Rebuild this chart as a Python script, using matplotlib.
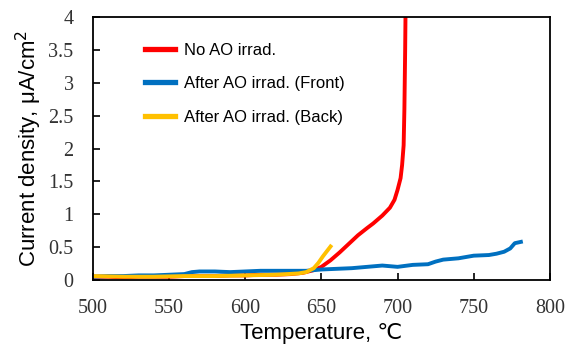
import matplotlib.pyplot as plt

# Data
red_t = [500, 510, 520, 530, 540, 550, 560, 570, 580, 590, 600, 610, 620, 630, 638,
         645, 650, 656, 662, 668, 674, 680, 684, 690, 695, 698, 700, 702, 703, 704,
         704.5, 705, 705.3]
red_y = [0.05, 0.05, 0.04, 0.05, 0.05, 0.05, 0.06, 0.06, 0.06, 0.07, 0.07, 0.08, 0.08,
         0.09, 0.11, 0.15, 0.2, 0.3, 0.42, 0.55, 0.68, 0.79, 0.86, 0.98, 1.1, 1.22,
         1.37, 1.55, 1.75, 2.05, 2.6, 3.5, 4.2]

blue_t = [500, 510, 520, 530, 540, 550, 560, 565, 570, 580, 590, 600, 610, 620, 630,
          640, 650, 660, 670, 680, 690, 700, 710, 720, 725, 730, 740, 750, 760, 765,
          770, 774, 777, 781]
blue_y = [0.05, 0.06, 0.06, 0.07, 0.07, 0.08, 0.09, 0.12, 0.13, 0.13, 0.12, 0.13, 0.14,
          0.14, 0.14, 0.14, 0.16, 0.17, 0.18, 0.2, 0.22, 0.2, 0.23, 0.24, 0.28, 0.31,
          0.33, 0.37, 0.38, 0.40, 0.43, 0.48, 0.56, 0.58]

yel_t = [500, 520, 540, 560, 580, 600, 620, 635, 640, 645, 648, 651, 654, 656]
yel_y = [0.06, 0.05, 0.05, 0.06, 0.06, 0.07, 0.08, 0.1, 0.12, 0.18, 0.26, 0.36, 0.45, 0.51]

labels = ["No AO irrad.", "After AO irrad. (Front)", "After AO irrad. (Back)"]
xticks = [500, 550, 600, 650, 700, 750, 800]
yticks = [0, 0.5, 1, 1.5, 2, 2.5, 3, 3.5, 4]
ytick_labels = ["0", "0.5", "1", "1.5", "2", "2.5", "3", "3.5", "4"]

sans = ['Liberation Sans', 'DejaVu Sans']

fig = plt.figure(figsize=(5.68, 3.48), dpi=100)
ax = fig.add_axes([0.1637, 0.1954, 0.8043, 0.7556])

ax.plot(red_t, red_y, color='#ff0000', lw=2.8, label=labels[0])
ax.plot(blue_t, blue_y, color='#0070c0', lw=2.8, label=labels[1])
ax.plot(yel_t, yel_y, color='#ffc000', lw=2.8, label=labels[2])

ax.set_xlim(500, 800)
ax.set_ylim(0, 4)
ax.set_xticks(xticks)
ax.set_yticks(yticks)
ax.set_yticklabels(ytick_labels)
ax.tick_params(direction='in', length=5, width=1.2, top=False, right=False,
               labelsize=14.5, labelcolor='#333333')
ax.tick_params(axis='y', pad=14)
ax.tick_params(axis='x', pad=14)
for lab in ax.get_xticklabels() + ax.get_yticklabels():
    lab.set_family('Liberation Serif')
for sp in ax.spines.values():
    sp.set_linewidth(1.3)

ax.set_xlabel("Temperature, \u2103", family=sans, fontsize=16, labelpad=3)
ax.set_ylabel("Current density, \u03bcA/cm$^2$", family=sans, fontsize=16, labelpad=3)

leg = ax.legend(loc='upper left', bbox_to_anchor=(0.099, 0.927), frameon=False,
                borderaxespad=0, prop={'family': sans, 'size': 12},
                handlelength=1.8, handletextpad=0.55, labelspacing=1.1)
for h in leg.get_lines():
    h.set_linewidth(3.8)

fig.savefig("out.png", dpi=100)
